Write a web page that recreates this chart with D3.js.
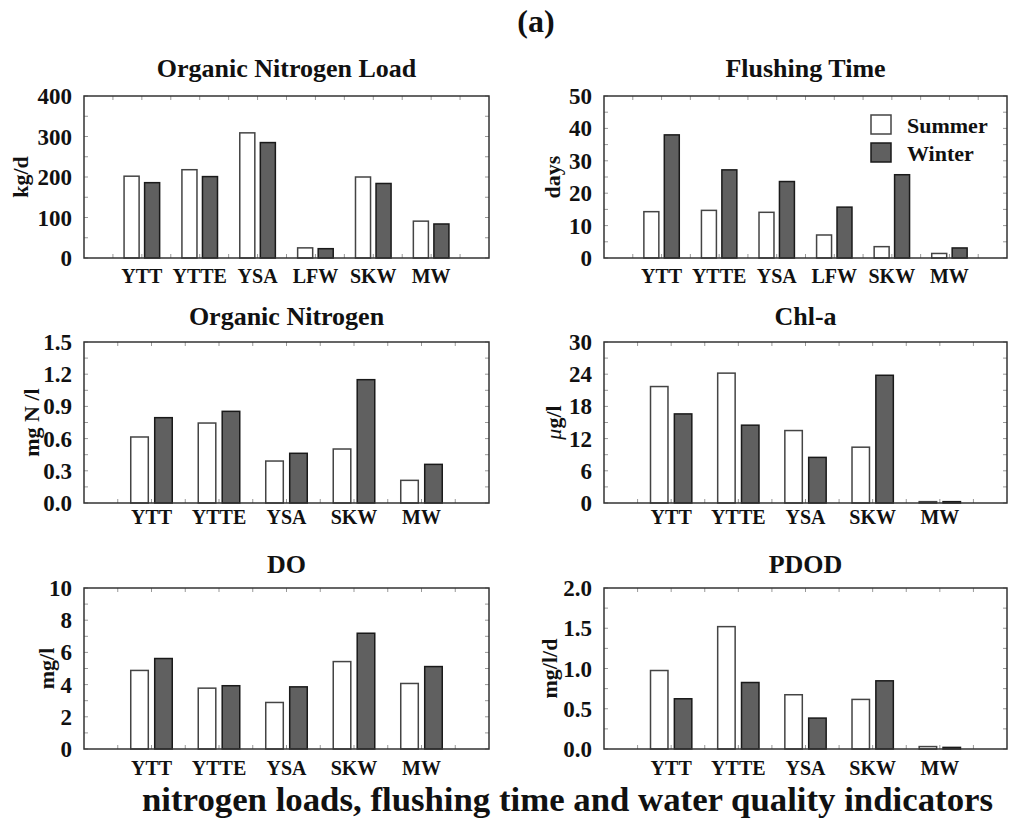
<!DOCTYPE html>
<html>
<head>
<meta charset="utf-8">
<script src="https://cdn.jsdelivr.net/npm/d3@7"></script>
<style>
  body { margin: 0; background: #fff; }
  text { font-family: 'Liberation Serif', 'Times New Roman', serif; font-weight: bold; fill: #111; }
</style>
</head>
<body>
<svg id="chart" width="1012" height="821"></svg>
<script>
// site names
var sites6 = ["YTT", "YTTE", "YSA", "LFW", "SKW", "MW"];
var sites5 = ["YTT", "YTTE", "YSA", "SKW", "MW"];

// values (summer / winter)
var loadSummer = [202, 218, 309, 25, 200, 91];
var loadWinter = [186, 201, 285, 23, 184, 84];
var flushSummer = [14.3, 14.7, 14.1, 7.1, 3.5, 1.4];
var flushWinter = [38.0, 27.2, 23.6, 15.7, 25.7, 3.1];
var orgNSummer = [0.615, 0.745, 0.391, 0.503, 0.211];
var orgNWinter = [0.795, 0.854, 0.463, 1.149, 0.360];
var chlSummer = [21.7, 24.2, 13.5, 10.4, 0.25];
var chlWinter = [16.6, 14.5, 8.5, 23.8, 0.25];
var doSummer = [4.88, 3.78, 2.89, 5.43, 4.07];
var doWinter = [5.62, 3.93, 3.86, 7.19, 5.12];
var pdodSummer = [0.975, 1.52, 0.674, 0.616, 0.03];
var pdodWinter = [0.624, 0.826, 0.384, 0.847, 0.02];

// tick labels
var loadTicks = [0, 100, 200, 300, 400];
var flushTicks = [0, 10, 20, 30, 40, 50];
var orgNTicks = [0, 0.3, 0.6, 0.9, 1.2, 1.5];
var chlTicks = [0, 6, 12, 18, 24, 30];
var doTicks = [0, 2, 4, 6, 8, 10];
var pdodTicks = [0, 0.5, 1.0, 1.5, 2.0];

var svg = d3.select("#chart");

var colLeft = [84, 489], colRight = [604, 1007];
var rows = [[96, 258], [342, 503], [588, 749]];

var panels = [
  {title: "Organic Nitrogen Load", unit: "kg/d", sites: sites6, s: loadSummer, w: loadWinter,
   ticks: loadTicks, fmt: d3.format("d"), col: colLeft, row: 0, ylx: 20, legend: false},
  {title: "Flushing Time", unit: "days", sites: sites6, s: flushSummer, w: flushWinter,
   ticks: flushTicks, fmt: d3.format("d"), col: colRight, row: 0, ylx: 552, legend: true},
  {title: "Organic Nitrogen", unit: "mg N /l", sites: sites5, s: orgNSummer, w: orgNWinter,
   ticks: orgNTicks, fmt: d3.format(".1f"), col: colLeft, row: 1, ylx: 31, legend: false},
  {title: "Chl-a", unit: "mu", sites: sites5, s: chlSummer, w: chlWinter,
   ticks: chlTicks, fmt: d3.format("d"), col: colRight, row: 1, ylx: 553, legend: false},
  {title: "DO", unit: "mg/l", sites: sites5, s: doSummer, w: doWinter,
   ticks: doTicks, fmt: d3.format("d"), col: colLeft, row: 2, ylx: 46, legend: false},
  {title: "PDOD", unit: "mg/l/d", sites: sites5, s: pdodSummer, w: pdodWinter,
   ticks: pdodTicks, fmt: d3.format(".1f"), col: colRight, row: 2, ylx: 549, legend: false}
];

var labelOffset = [25, 21, 26];
var titleOffset = [19, 17, 15];

panels.forEach(function(p) {
  var x0 = p.col[0], x1 = p.col[1];
  var y0 = rows[p.row][0], y1 = rows[p.row][1];
  var n = p.sites.length;

  var x = d3.scaleLinear().domain([0, n + 1]).range([x0, x1]);
  var y = d3.scaleLinear().domain([0, d3.max(p.ticks)]).range([y1, y0]);
  var step = x(1) - x(0);
  var bw = step * 0.26, gap = step * 0.095;

  var g = svg.append("g");

  // small inward ticks on the frame
  var yMinor = d3.range(0, p.ticks.length * 2 - 1).map(function(i) {
    return p.ticks[0] + (p.ticks[1] - p.ticks[0]) * i / 2;
  });
  yMinor.forEach(function(v) {
    g.append("line").attr("x1", x0).attr("x2", x0 + 4).attr("y1", y(v)).attr("y2", y(v))
      .attr("stroke", "#999").attr("stroke-width", 1);
    g.append("line").attr("x1", x1).attr("x2", x1 - 4).attr("y1", y(v)).attr("y2", y(v))
      .attr("stroke", "#999").attr("stroke-width", 1);
  });
  d3.range(0.5, n + 1, 0.5).forEach(function(v) {
    g.append("line").attr("x1", x(v)).attr("x2", x(v)).attr("y1", y0).attr("y2", y0 + 4)
      .attr("stroke", "#999").attr("stroke-width", 1);
    g.append("line").attr("x1", x(v)).attr("x2", x(v)).attr("y1", y1).attr("y2", y1 - 4)
      .attr("stroke", "#999").attr("stroke-width", 1);
  });

  // bars
  g.selectAll("rect.summer")
    .data(p.s)
    .enter()
    .append("rect")
      .attr("class", "summer")
      .attr("x", function(d, i) { return x(i + 1) - gap / 2 - bw; })
      .attr("y", function(d) { return y(d); })
      .attr("width", bw)
      .attr("height", function(d) { return y1 - y(d); })
      .attr("fill", "#fff")
      .attr("stroke", "#444")
      .attr("stroke-width", 1.5);

  g.selectAll("rect.winter")
    .data(p.w)
    .enter()
    .append("rect")
      .attr("class", "winter")
      .attr("x", function(d, i) { return x(i + 1) + gap / 2; })
      .attr("y", function(d) { return y(d); })
      .attr("width", bw)
      .attr("height", function(d) { return y1 - y(d); })
      .attr("fill", "#606060")
      .attr("stroke", "#1a1a1a")
      .attr("stroke-width", 1.5);

  // frame
  g.append("rect")
    .attr("x", x0).attr("y", y0)
    .attr("width", x1 - x0).attr("height", y1 - y0)
    .attr("fill", "none").attr("stroke", "#333").attr("stroke-width", 1.5);

  // y tick labels
  g.selectAll("text.ytick")
    .data(p.ticks)
    .enter()
    .append("text")
      .attr("x", x0 - 12)
      .attr("y", function(d) { return y(d); })
      .attr("dy", "0.35em")
      .attr("text-anchor", "end")
      .style("font-size", "23px")
      .text(function(d) { return p.fmt(d); });

  // x labels
  g.selectAll("text.xlab")
    .data(p.sites)
    .enter()
    .append("text")
      .attr("x", function(d, i) { return x(i + 1); })
      .attr("y", y1 + labelOffset[p.row])
      .attr("text-anchor", "middle")
      .style("font-size", "20px")
      .text(function(d) { return d; });

  // title
  g.append("text")
    .attr("x", (x0 + x1) / 2)
    .attr("y", y0 - titleOffset[p.row])
    .attr("text-anchor", "middle")
    .style("font-size", "26px")
    .text(p.title);

  // y unit
  var yl = g.append("text")
    .attr("transform", "translate(" + p.ylx + "," + ((y0 + y1) / 2) + ") rotate(-90)")
    .attr("dy", "0.35em")
    .attr("text-anchor", "middle")
    .style("font-size", "22px");
  if (p.unit === "mu") {
    yl.append("tspan").style("font-style", "italic").style("font-weight", "normal").text("\u03bc");
    yl.append("tspan").text("g/l");
  } else {
    yl.text(p.unit);
  }

  // legend
  if (p.legend) {
    var lg = g.append("g");
    [["Summer", "#fff", "#444"], ["Winter", "#606060", "#1a1a1a"]].forEach(function(e, i) {
      lg.append("rect")
        .attr("x", 871).attr("y", 115 + i * 28)
        .attr("width", 20).attr("height", 19)
        .attr("fill", e[1]).attr("stroke", e[2]).attr("stroke-width", 1.5);
      lg.append("text")
        .attr("x", 907).attr("y", 133 + i * 28)
        .style("font-size", "22px")
        .text(e[0]);
    });
  }
});

// figure label and caption
svg.append("text")
  .attr("x", 536).attr("y", 32)
  .attr("text-anchor", "middle")
  .style("font-size", "32px")
  .text("(a)");

svg.append("text")
  .attr("x", 142).attr("y", 811)
  .attr("textLength", 851)
  .attr("lengthAdjust", "spacingAndGlyphs")
  .style("font-size", "34px")
  .text("nitrogen loads, flushing time and water quality indicators");
</script>
</body>
</html>
